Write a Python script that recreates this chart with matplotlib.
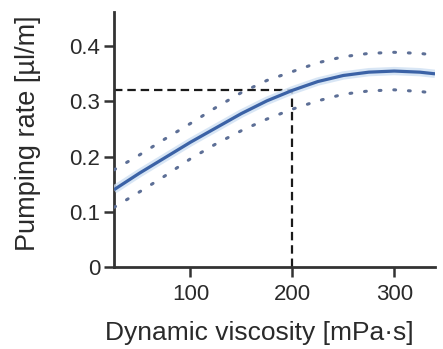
import matplotlib
matplotlib.use("Agg")
import matplotlib.pyplot as plt

plt.rcParams['font.family'] = ['Liberation Sans', 'DejaVu Sans']

viscosity = [25, 50, 75, 100, 125, 150, 175, 200, 225, 250, 275, 300, 325, 340]
rate_fit = [0.140, 0.170, 0.198, 0.226, 0.252, 0.278, 0.301, 0.320, 0.336, 0.347, 0.353, 0.355, 0.353, 0.350]
rate_upper = [0.176, 0.203, 0.232, 0.260, 0.289, 0.316, 0.338, 0.354, 0.370, 0.381, 0.387, 0.389, 0.387, 0.384]
rate_lower = [0.108, 0.136, 0.165, 0.196, 0.223, 0.247, 0.268, 0.286, 0.301, 0.313, 0.319, 0.321, 0.318, 0.315]
ref_x = 200
ref_y = 0.32
xticks = [100, 200, 300]
yticks = [0, 0.1, 0.2, 0.3, 0.4]
yticklabels = ['0', '0.1', '0.2', '0.3', '0.4']

fig = plt.figure(figsize=(4.43, 3.49), dpi=100)
ax = fig.add_axes([0.2573, 0.235, 0.7247, 0.7306])

xmin, xmax = 25, 340
ax.plot([xmin, ref_x], [ref_y, ref_y], color='#1a1a1a', lw=1.6, dashes=(3.8, 2.2), zorder=2)
ax.plot([ref_x, ref_x], [0, ref_y], color='#1a1a1a', lw=1.6, dashes=(3.8, 2.2), zorder=2)

dot_color = '#5d6f96'
ax.plot(viscosity, rate_upper, color=dot_color, lw=2.2, linestyle=(0, (0.6, 4.2)),
        dash_capstyle='round', zorder=3)
ax.plot(viscosity, rate_lower, color=dot_color, lw=2.2, linestyle=(0, (0.6, 4.2)),
        dash_capstyle='round', zorder=3)

ax.plot(viscosity, rate_fit, color='#cfe0f3', lw=6, solid_capstyle='butt', zorder=3.5, alpha=0.8)
ax.plot(viscosity, rate_fit, color='#3b62a6', lw=2.3, solid_capstyle='butt', zorder=4)

ax.set_xlim(xmin, xmax)
ax.set_ylim(0, 0.462)
ax.set_xticks(xticks)
ax.set_yticks(yticks)
ax.set_yticklabels(yticklabels)

for s in ['top', 'right']:
    ax.spines[s].set_visible(False)
for s in ['left', 'bottom']:
    ax.spines[s].set_linewidth(2.0)
    ax.spines[s].set_color('#333333')

ax.tick_params(axis='both', direction='out', length=7, width=1.8, color='#333333',
               labelsize=16, labelcolor='#2a2a2a', pad=3)
ax.tick_params(axis='x', pad=5)

ax.set_xlabel('Dynamic viscosity [mPa·s]', fontsize=19, color='#2a2a2a')
ax.xaxis.set_label_coords(0.452, -0.212, transform=ax.transAxes)
ax.set_ylabel('Pumping rate [µl/m]', fontsize=19.5, color='#2a2a2a', labelpad=20)
ax.yaxis.label.set_y(0.525)

fig.savefig('out.png', dpi=100)
